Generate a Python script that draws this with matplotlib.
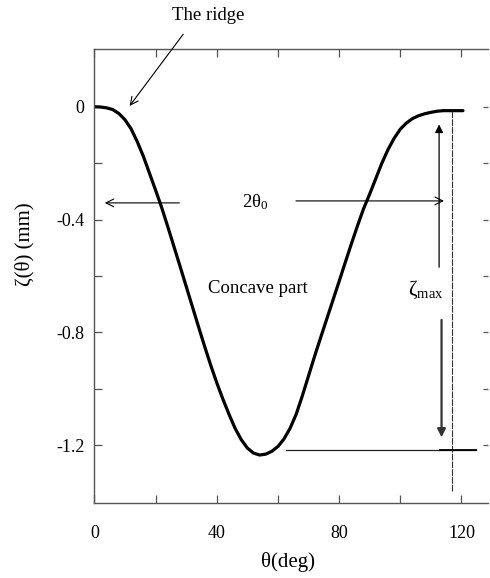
import matplotlib
matplotlib.use("Agg")
import matplotlib.pyplot as plt

plt.rcParams['font.family'] = ['Liberation Serif', 'DejaVu Serif']
plt.rcParams['mathtext.fontset'] = 'custom'
plt.rcParams['mathtext.rm'] = 'Liberation Serif'
plt.rcParams['mathtext.it'] = 'Liberation Serif:italic'

# Data
theta = [0, 2, 4, 6, 8, 10, 12, 14, 16, 18, 20, 22, 24, 26, 28, 30, 32, 34, 36, 38,
         40, 42, 44, 46, 48, 50, 52, 54, 56, 58, 60, 62, 64, 66, 68, 70, 72, 74, 76,
         78, 80, 82, 84, 86, 88, 90, 92, 94, 96, 98, 100, 102, 104, 106, 108, 110,
         112, 114, 120.5]
zeta = [0, -0.001, -0.004, -0.010, -0.024, -0.046, -0.078, -0.123, -0.175, -0.235,
        -0.295, -0.357, -0.425, -0.495, -0.565, -0.636, -0.707, -0.778, -0.848,
        -0.915, -0.978, -1.036, -1.090, -1.140, -1.180, -1.210, -1.228, -1.235,
        -1.232, -1.222, -1.205, -1.178, -1.140, -1.090, -1.025, -0.955, -0.885,
        -0.818, -0.752, -0.686, -0.620, -0.553, -0.487, -0.423, -0.362, -0.310,
        -0.255, -0.200, -0.152, -0.112, -0.080, -0.058, -0.042, -0.032, -0.025,
        -0.020, -0.016, -0.014, -0.014]

xticks = [0, 40, 80, 120]
xminor = [20, 60, 100]
yticks = [0, -0.4, -0.8, -1.2]
ytick_labels = ['0', '-0.4', '-0.8', '-1.2']
yminor = [-0.2, -0.6, -1.0]

fig = plt.figure(figsize=(4.9, 5.78), dpi=100)
ax = fig.add_axes([0.1925, 0.1303, 0.8035, 0.7849])

ax.plot(theta, zeta, color='black', lw=2.3, solid_capstyle='round', solid_joinstyle='round')

ax.set_xlim(0, 128.7)
ax.set_ylim(-1.404, 0.2046)

spine_col = '#555555'
for s in ['left', 'bottom', 'top']:
    ax.spines[s].set_color(spine_col)
    ax.spines[s].set_linewidth(1.0)
ax.spines['right'].set_visible(False)

ax.set_xticks(xticks)
ax.set_xticklabels([str(t) for t in xticks])
ax.set_xticks(xminor, minor=True)
ax.set_yticks(yticks)
ax.set_yticklabels(ytick_labels)
ax.set_yticks(yminor, minor=True)
ax.tick_params(axis='both', which='both', direction='in', length=6, width=0.9,
               color=spine_col, labelsize=13, top=True, right=True)
ax.tick_params(axis='x', pad=16)
ax.tick_params(axis='y', pad=7)
# shorter right-side ticks
for tick in ax.yaxis.get_major_ticks() + ax.yaxis.get_minor_ticks():
    tick.tick2line.set_markersize(3.5)

# Annotations
ax.text(37.2, 0.325, 'The ridge', fontsize=13.5, ha='center', va='center', clip_on=False)
ax.annotate('', xy=(11.0, -0.005), xytext=(29.6, 0.265),
            arrowprops=dict(arrowstyle='->', lw=0.8, color='black', mutation_scale=14),
            annotation_clip=False)

ax.annotate('', xy=(2.5, -0.341), xytext=(28.7, -0.341),
            arrowprops=dict(arrowstyle='->', lw=0.8, color='black', mutation_scale=14))
ax.annotate('', xy=(115.2, -0.334), xytext=(65.0, -0.334),
            arrowprops=dict(arrowstyle='->', lw=0.8, color='black', mutation_scale=14))
ax.text(48.3, -0.338, r'2$\mathrm{θ}_{\mathrm{0}}$', fontsize=13.5, ha='left', va='center')

ax.text(37.2, -0.643, 'Concave part', fontsize=13.5, ha='left', va='center')
ax.text(102.5, -0.65, r'$\mathrm{ζ}_{\mathrm{max}}$', fontsize=15, ha='left', va='center')

ax.annotate('', xy=(112.7, -0.053), xytext=(112.7, -0.579),
            arrowprops=dict(arrowstyle='-|>', lw=0.9, color='black', mutation_scale=12))
ax.annotate('', xy=(113.5, -1.182), xytext=(113.5, -0.746),
            arrowprops=dict(arrowstyle='-|>', lw=1.6, color='#333333', mutation_scale=12))

ax.plot([116.8, 116.8], [-0.014, -1.365], color='#333333', lw=0.8, ls=(0, (6, 1)))
ax.plot([62.6, 124.7], [-1.218, -1.218], color='#222222', lw=0.9)
ax.plot([113.0, 124.7], [-1.218, -1.218], color='black', lw=1.3)

fig.text(287.5 / 490, 1 - 562 / 578, 'θ(deg)', fontsize=15, ha='center', va='center')
fig.text(25 / 490, 1 - 244 / 578, 'ζ(θ) (mm)', fontsize=15, ha='center',
         va='center', rotation=90)

fig.savefig('out.png', dpi=100)
